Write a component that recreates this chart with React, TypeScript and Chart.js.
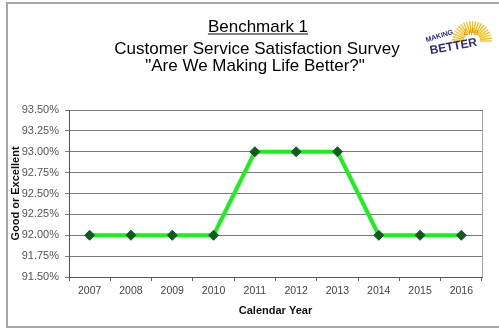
import React, { useEffect, useRef } from "react";
import { Chart, registerables } from "chart.js";

Chart.register(...registerables);

const categories = ["2007", "2008", "2009", "2010", "2011", "2012", "2013", "2014", "2015", "2016"];
const goodOrExcellent = [92, 92, 92, 92, 93, 93, 93, 92, 92, 92];
const yMin = 91.5;
const yMax = 93.5;
const yStep = 0.25;
const titleLines = ["Benchmark 1", "Customer Service Satisfaction Survey", "\"Are We Making Life Better?\""];
const xTitle = "Calendar Year";
const yTitle = "Good or Excellent";
const logoWords = ["MAKING", "Life", "BETTER"];

const decorPlugin = {
  id: "decor",
  beforeDraw(chart: any) {
    const ctx = chart.ctx;
    ctx.save();
    ctx.fillStyle = "#ffffff";
    ctx.fillRect(0, 0, chart.width, chart.height);
    ctx.strokeStyle = "#a6a6a6";
    ctx.lineWidth = 2;
    ctx.strokeRect(7, 3, chart.width + 10, 324);
    ctx.restore();
  },
  afterDraw(chart: any) {
    const ctx = chart.ctx;
    const ca = chart.chartArea;
    ctx.save();
    ctx.strokeStyle = "#a0a0a0";
    ctx.lineWidth = 1;
    ctx.beginPath();
    ctx.moveTo(ca.right + 0.5, ca.top);
    ctx.lineTo(ca.right + 0.5, ca.bottom);
    ctx.stroke();

    // titles
    ctx.fillStyle = "#000";
    ctx.textAlign = "center";
    ctx.textBaseline = "alphabetic";
    ctx.font = "17px Arial, 'Liberation Sans', sans-serif";
    const cx = 257;
    ctx.fillText(titleLines[0], cx + 1, 32);
    const w = ctx.measureText(titleLines[0]).width;
    ctx.fillRect(cx + 1 - w / 2, 33.5, w, 1);
    ctx.fillText(titleLines[1], cx, 54);
    ctx.fillText(titleLines[2], cx - 2, 71);

    // logo
    const sx = 472, sy = 41;
    ctx.strokeStyle = "#f6c21c";
    ctx.lineWidth = 1.4;
    for (let i = 0; i <= 20; i++) {
      const a = Math.PI * 1.02 + (i / 20) * Math.PI * 0.98;
      ctx.beginPath();
      ctx.moveTo(sx + Math.cos(a) * 8, sy + Math.sin(a) * 8);
      ctx.lineTo(sx + Math.cos(a) * 20, sy + Math.sin(a) * 20);
      ctx.stroke();
    }
    ctx.fillStyle = "#ffffff";
    ctx.beginPath();
    ctx.arc(sx, sy, 8, 0, Math.PI * 2);
    ctx.fill();
    ctx.fillStyle = "#2a2a7a";
    ctx.font = "bold 7px Arial, sans-serif";
    ctx.save();
    ctx.translate(440, 38);
    ctx.rotate(-0.3);
    ctx.fillText(logoWords[0], 0, 0);
    ctx.restore();
    ctx.fillStyle = "#e08a1e";
    ctx.font = "italic 9px Arial, sans-serif";
    ctx.fillText(logoWords[1], 471, 35);
    ctx.fillStyle = "#2a2a7a";
    ctx.font = "bold 12px Arial, sans-serif";
    ctx.save();
    ctx.translate(454, 50);
    ctx.rotate(-0.18);
    ctx.fillText(logoWords[2], 0, 0);
    ctx.restore();
    ctx.restore();
  },
};

export default function App() {
  const ref = useRef<HTMLCanvasElement | null>(null);
  useEffect(() => {
    if (!ref.current) return;
    const chart = new Chart(ref.current, {
      type: "line",
      data: {
        labels: categories,
        datasets: [
          {
            label: yTitle,
            data: goodOrExcellent,
            borderColor: "#1af01a",
            borderWidth: 4,
            pointStyle: "rectRot",
            pointRadius: 5,
            pointHoverRadius: 5,
            pointBackgroundColor: "#0b5e1b",
            pointBorderColor: "#0b5e1b",
            pointBorderWidth: 1,
            tension: 0,
          },
        ],
      },
      options: {
        responsive: false,
        animation: false,
        devicePixelRatio: 1,
        layout: { padding: { top: 110, left: 0, right: 17, bottom: 0 } },
        plugins: { legend: { display: false }, tooltip: { enabled: false }, title: { display: false } },
        scales: {
          x: {
            type: "category",
            offset: true,
            grid: { display: true, offset: true, drawOnChartArea: false, drawTicks: true, tickLength: 4, color: "#666" },
            border: { display: true, color: "#555" },
            ticks: { font: { size: 10.5, family: "Arial, 'Liberation Sans', sans-serif" }, color: "#444", padding: 4, maxRotation: 0 },
            title: {
              display: true,
              text: xTitle,
              color: "#111",
              font: { size: 11, weight: "bold", family: "Arial, 'Liberation Sans', sans-serif" },
              padding: { top: 0, bottom: 15 },
            },
            afterFit: (s: any) => { s.height = 56; },
          },
          y: {
            min: yMin,
            max: yMax,
            grid: { color: "#7a7a7a", tickLength: 4 },
            border: { display: true, color: "#555" },
            ticks: {
              stepSize: yStep,
              color: "#555",
              padding: 6,
              font: { size: 11, family: "'Liberation Sans Narrow', 'Arial Narrow', Arial, sans-serif" },
              callback: (v: any) => Number(v).toFixed(2) + "%",
            },
            title: {
              display: true,
              text: yTitle,
              color: "#111",
              font: { size: 11, weight: "bold", family: "Arial, 'Liberation Sans', sans-serif" },
              padding: { top: 9, bottom: 0 },
            },
            afterFit: (s: any) => { s.width = 69; },
          },
        },
      },
      plugins: [decorPlugin],
    });
    return () => chart.destroy();
  }, []);
  return (
    <div style={{ position: "absolute", left: 0, top: 0, width: 499, height: 333 }}>
      <canvas ref={ref} width={499} height={333} style={{ width: 499, height: 333, display: "block" }} />
    </div>
  );
}
